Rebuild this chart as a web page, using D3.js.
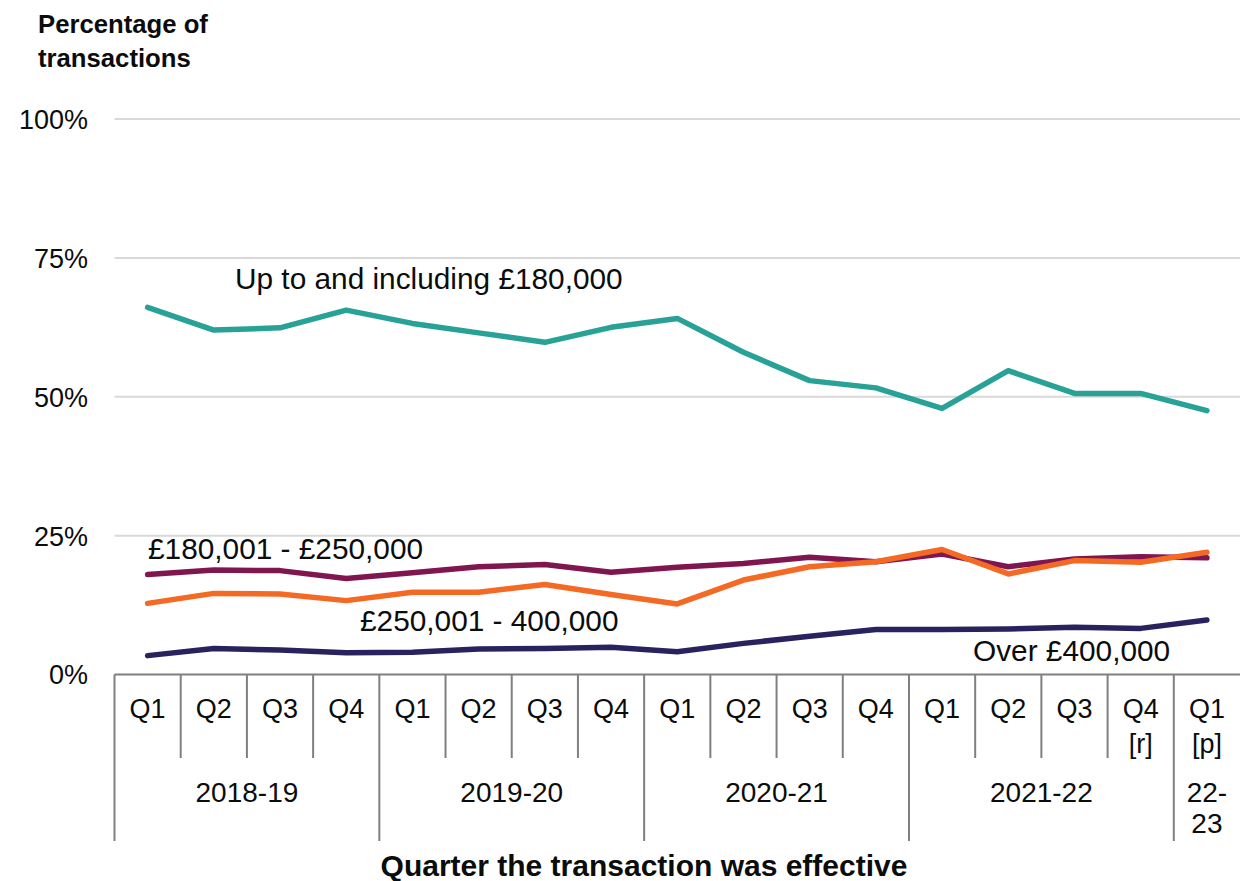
<!DOCTYPE html>
<html>
<head>
<meta charset="utf-8">
<script src="https://cdn.jsdelivr.net/npm/d3@7"></script>
<style>
  html, body { margin: 0; padding: 0; background: #fff; }
  svg { display: block; font-family: "Liberation Sans", Arial, sans-serif; }
</style>
</head>
<body>
<svg id="chart" width="1240" height="881"></svg>
<script>
// Quarters and financial years
const quarters = ["Q1","Q2","Q3","Q4","Q1","Q2","Q3","Q4","Q1","Q2","Q3","Q4","Q1","Q2","Q3","Q4","Q1"];
const quarterNotes = ["","","","","","","","","","","","","","","","[r]","[p]"];
const years = [
  { label: ["2018-19"], start: 0, end: 3 },
  { label: ["2019-20"], start: 4, end: 7 },
  { label: ["2020-21"], start: 8, end: 11 },
  { label: ["2021-22"], start: 12, end: 15 },
  { label: ["22-", "23"], start: 16, end: 16 }
];

// Share of transactions (%) by price band
const upTo180k     = [66.1, 62.0, 62.4, 65.6, 63.2, 61.5, 59.8, 62.5, 64.1, 58.0, 52.9, 51.6, 47.9, 54.7, 50.6, 50.6, 47.5];
const from180to250 = [18.0, 18.8, 18.7, 17.3, 18.3, 19.4, 19.8, 18.4, 19.3, 20.0, 21.1, 20.3, 21.7, 19.4, 20.8, 21.2, 21.0];
const from250to400 = [12.8, 14.6, 14.5, 13.3, 14.8, 14.8, 16.2, 14.4, 12.7, 17.0, 19.4, 20.3, 22.5, 18.1, 20.5, 20.2, 22.0];
const over400k     = [3.4, 4.7, 4.4, 3.9, 4.0, 4.6, 4.7, 4.9, 4.1, 5.6, 6.9, 8.1, 8.1, 8.2, 8.5, 8.3, 9.8];

const yTicks = [0, 25, 50, 75, 100];

const series = [
  { name: "Up to and including £180,000", values: upTo180k,     color: "#28a197", label: { x: 235, y: 289 } },
  { name: "£180,001 - £250,000",          values: from180to250, color: "#801650", label: { x: 148, y: 559 } },
  { name: "£250,001 - 400,000",           values: from250to400, color: "#f46a25", label: { x: 360, y: 631 } },
  { name: "Over £400,000",                values: over400k,     color: "#28235e", label: { x: 973, y: 661 } }
];

const labelSize = 29.8;

const svg = d3.select("#chart");
const plotLeft = 114.5, plotRight = 1240, plotTop = 119, plotBottom = 674.5;

const x = d3.scaleBand().domain(d3.range(quarters.length)).range([plotLeft, plotRight]).padding(0);
const y = d3.scaleLinear().domain([0, 100]).range([plotBottom, plotTop]);

// Horizontal gridlines
svg.append("g")
  .selectAll("line")
  .data(yTicks.filter(d => d > 0))
  .join("line")
  .attr("x1", plotLeft).attr("x2", plotRight)
  .attr("y1", d => y(d)).attr("y2", d => y(d))
  .attr("stroke", "#d9d9d9").attr("stroke-width", 2);

// Y axis labels
const yAxis = d3.axisLeft(y).tickValues(yTicks).tickFormat(d => d + "%").tickSize(0).tickPadding(0);
const yg = svg.append("g").attr("transform", "translate(88,0)").call(yAxis);
yg.select(".domain").remove();
yg.selectAll("text")
  .attr("font-size", 27)
  .attr("fill", "#0b0c0c")
  .attr("font-family", "Liberation Sans, Arial, sans-serif")
  .attr("dy", "0.35em");

// Y axis title
const yTitle = svg.append("text").attr("font-size", 25.7).attr("font-weight", "bold").attr("fill", "#0b0c0c");
yTitle.append("tspan").attr("x", 38).attr("y", 33).text("Percentage of");
yTitle.append("tspan").attr("x", 38).attr("y", 67).text("transactions");

// X axis: baseline, quarter dividers and year dividers
const axisColor = "#7f7f7f";
const qTickEnd = 758, yTickEnd = 841;
svg.append("line")
  .attr("x1", plotLeft).attr("x2", plotRight).attr("y1", plotBottom).attr("y2", plotBottom)
  .attr("stroke", axisColor).attr("stroke-width", 2);

const yearStarts = new Set(years.map(g => g.start));
const boundaries = d3.range(quarters.length).map(i => ({ i, x: x(i), isYear: yearStarts.has(i) }));
svg.append("g")
  .selectAll("line")
  .data(boundaries)
  .join("line")
  .attr("x1", d => d.x).attr("x2", d => d.x)
  .attr("y1", plotBottom).attr("y2", d => d.isYear ? yTickEnd : qTickEnd)
  .attr("stroke", axisColor).attr("stroke-width", 2);

// Quarter labels
const qg = svg.append("g").attr("font-size", 27).attr("fill", "#0b0c0c").attr("text-anchor", "middle");
qg.selectAll("text.q")
  .data(quarters)
  .join("text")
  .attr("class", "q")
  .attr("x", (d, i) => x(i) + x.bandwidth() / 2)
  .attr("y", 718)
  .text(d => d);
qg.selectAll("text.n")
  .data(quarterNotes)
  .join("text")
  .attr("class", "n")
  .attr("x", (d, i) => x(i) + x.bandwidth() / 2)
  .attr("y", 753)
  .text(d => d);

// Year labels
const yrg = svg.append("g").attr("font-size", 28).attr("fill", "#0b0c0c").attr("text-anchor", "middle");
years.forEach(g => {
  const cx = (x(g.start) + x(g.end) + x.bandwidth()) / 2;
  g.label.forEach((t, k) => {
    yrg.append("text").attr("x", cx).attr("y", 802 + k * 31).text(t);
  });
});

// X axis title
svg.append("text")
  .attr("x", 644).attr("y", 876)
  .attr("text-anchor", "middle").attr("font-size", 30).attr("font-weight", "bold").attr("fill", "#0b0c0c")
  .text("Quarter the transaction was effective");

// Series lines
const line = d3.line()
  .x((d, i) => x(i) + x.bandwidth() / 2)
  .y(d => y(d));

const drawOrder = [series[0], series[3], series[1], series[2]];
svg.append("g")
  .selectAll("path")
  .data(drawOrder)
  .join("path")
  .attr("d", d => line(d.values))
  .attr("fill", "none")
  .attr("stroke", d => d.color)
  .attr("stroke-width", 5.5)
  .attr("stroke-linejoin", "round")
  .attr("stroke-linecap", "round");

// Series labels
svg.append("g")
  .selectAll("text")
  .data(series)
  .join("text")
  .attr("x", d => d.label.x)
  .attr("y", d => d.label.y)
  .attr("font-size", labelSize)
  .attr("fill", "#0b0c0c")
  .text(d => d.name);
</script>
</body>
</html>
